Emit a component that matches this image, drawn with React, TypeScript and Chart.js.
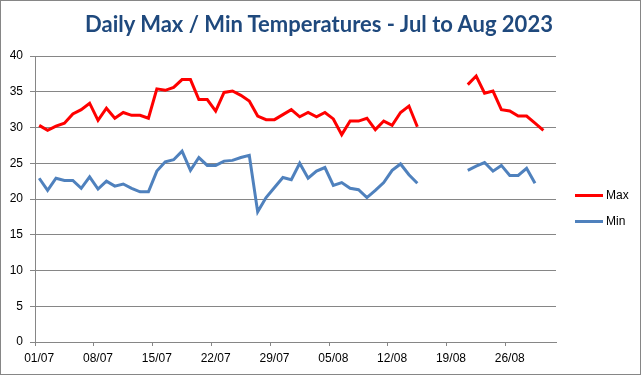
import React, { useEffect, useRef } from "react";
import { Chart, registerables } from "chart.js";

Chart.register(...registerables);

const dates: string[] = [
  "01/07", "02/07", "03/07", "04/07", "05/07", "06/07", "07/07", "08/07", "09/07", "10/07",
  "11/07", "12/07", "13/07", "14/07", "15/07", "16/07", "17/07", "18/07", "19/07", "20/07",
  "21/07", "22/07", "23/07", "24/07", "25/07", "26/07", "27/07", "28/07", "29/07", "30/07",
  "31/07", "01/08", "02/08", "03/08", "04/08", "05/08", "06/08", "07/08", "08/08", "09/08",
  "10/08", "11/08", "12/08", "13/08", "14/08", "15/08", "16/08", "17/08", "18/08", "19/08",
  "20/08", "21/08", "22/08", "23/08", "24/08", "25/08", "26/08", "27/08", "28/08", "29/08",
  "30/08", "31/08",
];

const maxTemps: (number | null)[] = [
  30.3, 29.6, 30.2, 30.6, 31.9, 32.5, 33.4, 31.0, 32.7, 31.3,
  32.1, 31.7, 31.7, 31.3, 35.4, 35.2, 35.6, 36.7, 36.7, 33.9,
  33.9, 32.3, 34.9, 35.1, 34.5, 33.7, 31.6, 31.1, 31.1, 31.8,
  32.5, 31.5, 32.1, 31.5, 32.1, 31.2, 29.0, 30.9, 30.9, 31.3,
  29.7, 30.9, 30.3, 32.1, 33.0, 30.1, null, null, null, null,
  null, 36.0, 37.2, 34.8, 35.1, 32.5, 32.3, 31.6, 31.6, 30.6,
  29.6, null,
];

const minTemps: (number | null)[] = [
  22.9, 21.2, 22.9, 22.6, 22.6, 21.5, 23.1, 21.4, 22.5, 21.8,
  22.1, 21.5, 21.0, 21.0, 23.9, 25.2, 25.5, 26.7, 24.0, 25.8,
  24.7, 24.7, 25.3, 25.4, 25.8, 26.1, 18.2, 20.2, 21.6, 23.0,
  22.7, 25.0, 22.9, 23.9, 24.4, 21.9, 22.3, 21.5, 21.3, 20.2,
  21.2, 22.3, 24.0, 24.9, 23.4, 22.2, null, null, null, null,
  null, 24.0, 24.6, 25.1, 23.9, 24.7, 23.3, 23.3, 24.3, 22.2,
  null, null,
];

const seriesNames = ["Max", "Min"];
const seriesColors = ["#FF0000", "#4F81BD"];
const titleText = "Daily Max / Min Temperatures - Jul to Aug 2023";
const tickStepDays = 7;

const GRID = "#868686";
const TICK_FONT = { family: "'Liberation Sans', Arial, sans-serif", size: 12 };

export default function App() {
  const canvasRef = useRef<HTMLCanvasElement | null>(null);

  useEffect(() => {
    document.body.style.margin = "0";
    const canvas = canvasRef.current;
    if (!canvas) return;

    const borderPlugin = {
      id: "outerBorder",
      afterDraw(chart: any) {
        const ctx = chart.ctx;
        ctx.save();
        ctx.strokeStyle = GRID;
        ctx.lineWidth = 1;
        ctx.strokeRect(0.5, 0.5, chart.width - 2, chart.height - 1);
        ctx.restore();
      },
    };

    const chart = new Chart(canvas, {
      type: "line",
      data: {
        labels: dates,
        datasets: [
          {
            label: seriesNames[0],
            data: maxTemps,
            borderColor: seriesColors[0],
            backgroundColor: seriesColors[0],
            borderWidth: 3,
            pointRadius: 0,
            tension: 0,
            spanGaps: false,
          },
          {
            label: seriesNames[1],
            data: minTemps,
            borderColor: seriesColors[1],
            backgroundColor: seriesColors[1],
            borderWidth: 3,
            pointRadius: 0,
            tension: 0,
            spanGaps: false,
          },
        ],
      },
      options: {
        responsive: false,
        animation: false,
        devicePixelRatio: 1,
        layout: { padding: { left: 0, right: 86, top: 56, bottom: 0 } },
        plugins: {
          legend: { display: false },
          tooltip: { enabled: false },
          title: { display: false },
        },
        scales: {
          x: {
            type: "category",
            offset: true,
            afterFit(scale: any) {
              scale.height = 33;
            },
            grid: {
              offset: true,
              drawOnChartArea: false,
              drawTicks: true,
              tickLength: 4,
              tickColor: (ctx: any) => (ctx.index % tickStepDays === 0 && ctx.index < dates.length ? GRID : "rgba(0,0,0,0)"),
            },
            border: { display: true, color: GRID },
            ticks: {
              autoSkip: false,
              maxRotation: 0,
              minRotation: 0,
              padding: 5,
              color: "#000",
              font: TICK_FONT,
              callback: (_v: any, i: number) => (i % tickStepDays === 0 ? dates[i] : ""),
            },
          },
          y: {
            min: 0,
            max: 40,
            afterFit(scale: any) {
              scale.width = 35;
            },
            grid: {
              color: GRID,
              lineWidth: 1,
              tickLength: 5,
              tickColor: GRID,
            },
            border: { display: true, color: GRID },
            ticks: {
              stepSize: 5,
              padding: 7,
              color: "#000",
              font: TICK_FONT,
            },
          },
        },
      },
      plugins: [borderPlugin],
    });

    return () => chart.destroy();
  }, []);

  const legendItem = (i: number, top: number) => (
    <div
      key={seriesNames[i]}
      style={{ position: "absolute", left: 575, top, display: "flex", alignItems: "center", height: 16 }}
    >
      <div style={{ width: 28, height: 3, background: seriesColors[i] }} />
      <span
        style={{
          marginLeft: 3,
          font: "12px 'Liberation Sans', Arial, sans-serif",
          color: "#000",
          lineHeight: "16px",
        }}
      >
        {seriesNames[i]}
      </span>
    </div>
  );

  return (
    <div style={{ position: "relative", width: 642, height: 375, background: "#fff" }}>
      <canvas ref={canvasRef} width={642} height={375} style={{ display: "block", width: 642, height: 375 }} />
      <div
        style={{
          position: "absolute",
          left: 0,
          top: 11,
          width: 638,
          textAlign: "center",
          font: "bold 22px Lato, 'Open Sans', sans-serif",
          lineHeight: "26px",
          color: "#1F497D",
          whiteSpace: "nowrap",
        }}
      >
        {titleText}
      </div>
      {legendItem(0, 187)}
      {legendItem(1, 213)}
    </div>
  );
}
